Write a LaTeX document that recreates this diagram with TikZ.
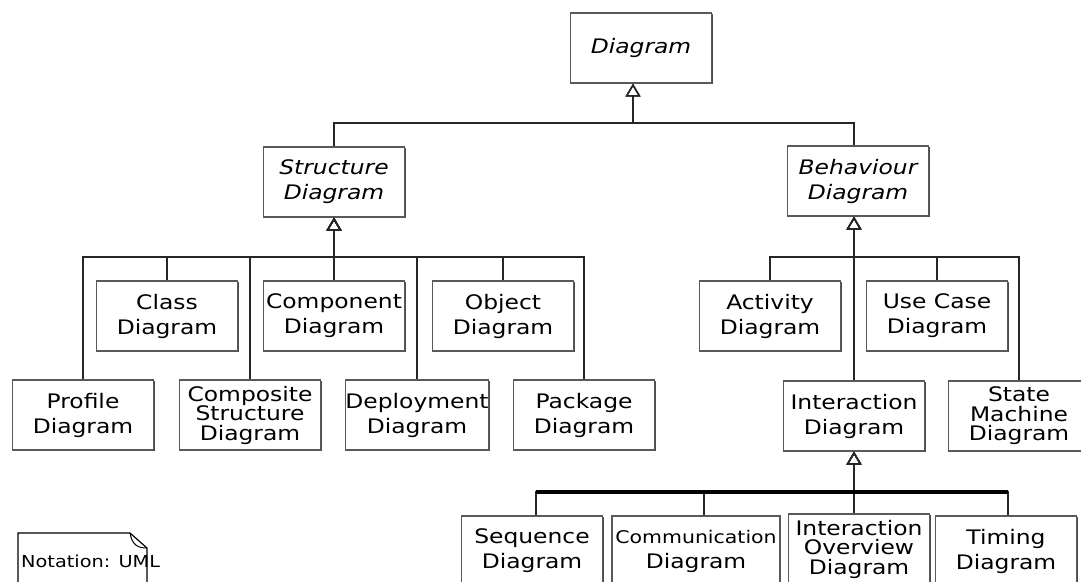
\documentclass[tikz,border=0pt]{standalone}
\usepackage{fontspec}
\setmainfont{DejaVu Sans}[FakeStretch=1.17]
\usetikzlibrary{arrows.meta,shadows}
\begin{document}
\begin{tikzpicture}[x=1pt, y=-1pt,
  box/.style={draw=black!65, line width=1.2pt, fill=white, minimum width=141pt, minimum height=70pt,
    inner sep=0pt, align=center, font=\fontsize{20}{25}\selectfont,
    drop shadow={shadow xshift=1.3pt, shadow yshift=-1.3pt, fill=black, opacity=0.7}},
  abstract/.style={box, font=\fontsize{20}{25}\selectfont\itshape},
  tight/.style={box, font=\fontsize{20}{19.5}\selectfont},
  gen/.style={draw=black!85, line width=1.9pt, -{Triangle[open, width=15pt, length=13pt, line width=1.5pt]}},
  bus/.style={draw=black, line width=4pt}]
\useasboundingbox (0,0) rectangle (1081,581);
\node[abstract] (Diag) at (641,48) {Diagram};
\node[abstract] (Struct) at (334,182) {Structure\\Diagram};
\node[abstract] (Behav) at (858,181) {Behaviour\\Diagram};
\node[box] (Class) at (167,316) {Class\\Diagram};
\node[box] (Comp) at (334,316) {Component\\Diagram};
\node[box] (Obj) at (503,316) {Object\\Diagram};
\node[box] (Prof) at (83,415) {Profile\\Diagram};
\node[tight] (Compo) at (250,415) {Composite\\Structure\\Diagram};
\node[box] (Depl) at (417,415) {Deployment\\Diagram};
\node[box] (Pack) at (584,415) {Package\\Diagram};
\node[box] (Act) at (770,316) {Activity\\Diagram};
\node[box] (Use) at (937,316) {Use Case\\Diagram};
\node[box] (Inter) at (854,416) {Interaction\\Diagram};
\node[tight] (State) at (1019,416) {State\\Machine\\Diagram};
\node[box] (Seq) at (532,551) {Sequence\\Diagram};
\node[box, minimum width=168pt] (Comm) at (696,551) {{\fontsize{17.5}{25}\selectfont Communication}\\Diagram};
\node[tight] (Over) at (859,549) {Interaction\\Overview\\Diagram};
\node[box] (Tim) at (1006,551) {Timing\\Diagram};
\coordinate (tbus) at (633,123);
\coordinate (sbus) at (334,257);
\coordinate (bbus) at (854,257);
\coordinate (ibus) at (854,492);
\coordinate (ibusL) at (536,492);
\coordinate (ibusR) at (1008,492);
\draw[gen] (Struct.north) |- (tbus) -- ([xshift=-8pt]Diag.south);
\draw[gen] (Behav.north -| bbus) |- (tbus) -- ([xshift=-8pt]Diag.south);
\draw[gen] (Prof.north) |- (sbus) -- (Struct.south);
\draw[gen] (Class.north) |- (sbus) -- (Struct.south);
\draw[gen] (Compo.north) |- (sbus) -- (Struct.south);
\draw[gen] (Comp.north) -- (Struct.south);
\draw[gen] (Depl.north) |- (sbus) -- (Struct.south);
\draw[gen] (Obj.north) |- (sbus) -- (Struct.south);
\draw[gen] (Pack.north) |- (sbus) -- (Struct.south);
\draw[gen] (Act.north) |- (bbus) -- ([xshift=-4pt]Behav.south);
\draw[gen] (Use.north) |- (bbus) -- ([xshift=-4pt]Behav.south);
\draw[gen] (Inter.north) -- ([xshift=-4pt]Behav.south);
\draw[gen] (State.north) |- (bbus) -- ([xshift=-4pt]Behav.south);
\draw[gen] ([xshift=4pt]Seq.north) |- (ibus) -- (Inter.south);
\draw[gen] ([xshift=8pt]Comm.north) |- (ibus) -- (Inter.south);
\draw[gen] ([xshift=-5pt]Over.north) -- (Inter.south);
\draw[gen] ([xshift=2pt]Tim.north) |- (ibus) -- (Inter.south);
\draw[bus] (ibusL) -- (ibusR);
\draw[line width=1.2pt] (18,533) -- (130,533) -- (147,548) -- (147,590) -- (18,590) -- cycle;
\draw[line width=1pt] (130,533) .. controls (132,545) and (138,548) .. (147,548);
\node[anchor=west, inner sep=0pt, font=\fontsize{16.5}{18}\selectfont] (Note) at (21,561) {Notation: UML};
\end{tikzpicture}
\end{document}
